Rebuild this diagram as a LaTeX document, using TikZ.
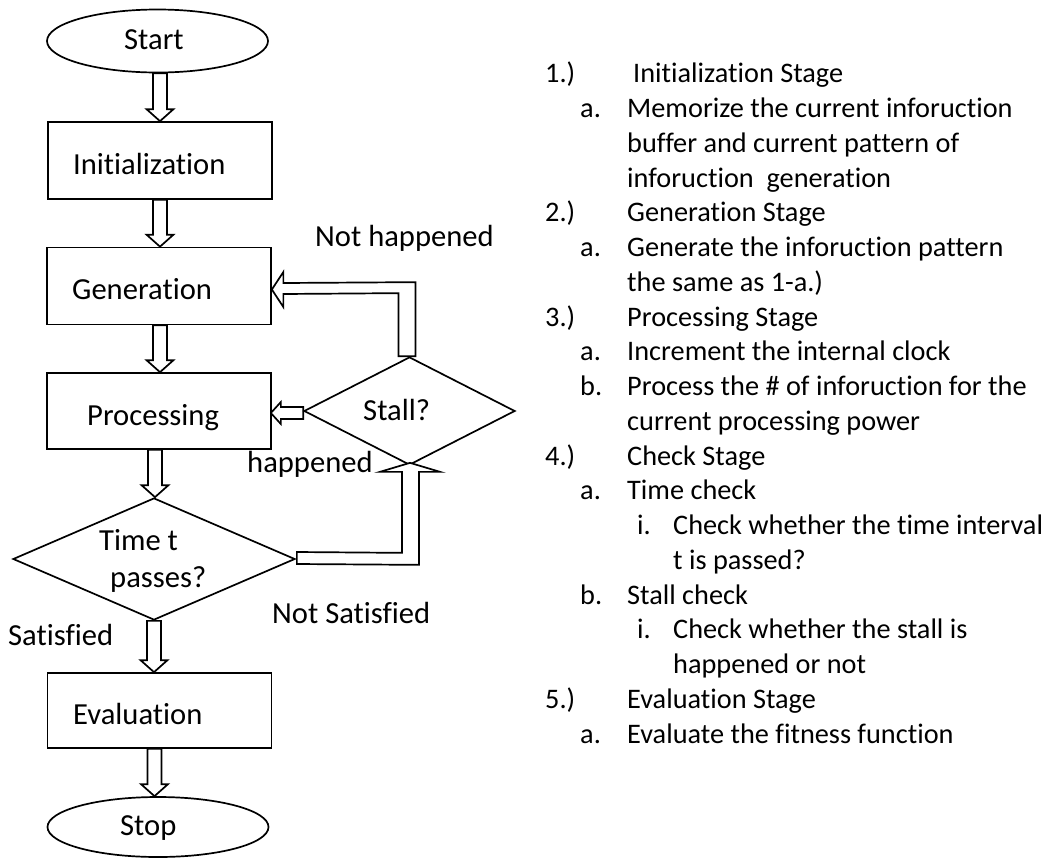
\documentclass[tikz,border=0pt]{standalone}
\usepackage{fontspec}
\setmainfont{Carlito}[Ligatures={NoCommon}]
\usetikzlibrary{shapes.geometric,calc,backgrounds}

% hollow block arrow pointing down, centred on x = #1, from node #2 to node #3
\newcommand\downblock[3]{%
  \draw[blk] let \p1=(#2.south), \p2=(#3.north) in
    ({#1pt-7pt},\y1) -- ({#1pt+7pt},\y1) -- ({#1pt+7pt},{\y2+12pt})
    -- ({#1pt+13.5pt},{\y2+12pt}) -- ({#1pt},\y2) -- ({#1pt-13.5pt},{\y2+12pt})
    -- ({#1pt-7pt},{\y2+12pt}) -- cycle;}

\begin{document}
\begin{tikzpicture}[x=1pt,y=-1pt,
  outline/.style={draw=black,line width=1.7pt,fill=white,inner sep=0pt},
  term/.style={outline,ellipse,minimum width=221pt,minimum height=63pt},
  stepbox/.style={outline,rectangle,minimum width=224pt,minimum height=77pt},
  test/.style={outline,diamond},
  lbl/.style={anchor=base west,inner sep=0pt,font=\fontsize{30.6}{36}\selectfont},
  item/.style={anchor=base west,inner sep=0pt,font=\fontsize{28.3}{34}\selectfont},
  blk/.style={draw=black,line width=1.7pt,fill=white,line join=miter},
]
\useasboundingbox (0,0) rectangle (1052,857);

% flowchart shapes
\node[term] (start) at (157.5,41) {};
\node[stepbox] (init) at (159.75,160.5) {};
\node[stepbox] (gen) at (159,286) {};
\node[stepbox,minimum height=76pt] (proc) at (159,411) {};
\node[test,minimum width=282pt,minimum height=122pt] (time) at (154,559) {};
\node[test,minimum width=211pt,minimum height=108pt] (stall) at (409.5,411) {};
\node[stepbox,minimum height=75pt] (eval) at (159.5,710.5) {};
\node[term,minimum height=60pt] (stop) at (158,827) {};

% texts inside the shapes
\node[lbl] (tstart) at (124,49.3) {Start};
\node[lbl] (tinit) at (73,174) {Initialization};
\node[lbl] (tgen) at (72,299) {Generation};
\node[lbl] (tproc) at (87,425) {Processing};
\node[lbl] (ttime1) at (99,550) {Time t};
\node[lbl] (ttime2) at (110,587) {passes?};
\node[lbl] (tstall) at (363,420) {Stall?};
\node[lbl] (teval) at (73,724) {Evaluation};
\node[lbl] (tstop) at (120,835) {Stop};

% branch labels
\node[lbl] (lnot) at (315,246) {Not happened};
\node[lbl] (lhap) at (247,472) {happened};
\node[lbl] (lnsat) at (272,623) {Not Satisfied};
\node[lbl] (lsat) at (8,645) {Satisfied};

% block arrows, kept behind the shapes
\begin{pgfonlayer}{background}
\downblock{160}{start}{init}
\downblock{160}{init}{gen}
\downblock{160}{gen}{proc}
\downblock{155}{proc}{time}
\downblock{154}{time}{eval}
\downblock{154.5}{eval}{stop}
% stall not happened: back to generation
\draw[blk] ($(stall.north)+(-11,0)$) -- ++(0,-63) -- ($(gen.east)+(11.5,8)$)
  -- ++(0,13) -- ($(gen.east)+(0,3.5)$) -- ($(gen.east)+(11.5,-14)$) -- ++(0,11)
  -- ($(stall.north)+(6,-74)$) -- ($(stall.north)+(6,0)$) -- cycle;
% stall happened: back to processing
\draw[blk] ($(stall.west)+(0,-4)$) -- ($(proc.east)+(9,-4)$) -- ++(0,-5)
  -- ($(proc.east)+(-1,2)$) -- ($(proc.east)+(9,13)$) -- ++(0,-5)
  -- ($(stall.west)+(0,8)$) -- cycle;
\end{pgfonlayer}
% time not satisfied: up to the stall test
\draw[blk] ($(time.east)+(1,-7)$) -- ($(stall.south)+(-7.5,87)$)
  -- ($(stall.south)+(-7.5,6)$) -- ++(-22,0) -- ($(stall.south)+(0.5,-3)$)
  -- ($(stall.south)+(30.5,6)$) -- ++(-21,0) -- ($(stall.south)+(9.5,99)$)
  -- ($(time.east)+(1,5)$) -- cycle;

% stage list
\node[item] (n1) at (545,82.75) {1.)};
\node[item] (n1t) at (633,82.75) {Initialization Stage};
\node[item] (n1a) at (580,117.5) {a.};
\node[item] (n1at) at (627,117.5) {Memorize the current inforuction};
\node[item] (n1b) at (627,152.25) {buffer and current pattern of};
\node[item] (n1c) at (627,187) {inforuction\ \ generation};
\node[item] (n2) at (545,221.75) {2.)};
\node[item] (n2t) at (627,221.75) {Generation Stage};
\node[item] (n2a) at (580,256.5) {a.};
\node[item] (n2at) at (627,256.5) {Generate the inforuction pattern};
\node[item] (n2b) at (627,291.25) {the same as 1-a.)};
\node[item] (n3) at (545,326) {3.)};
\node[item] (n3t) at (627,326) {Processing Stage};
\node[item] (n3a) at (580,360.75) {a.};
\node[item] (n3at) at (627,360.75) {Increment the internal clock};
\node[item] (n3b) at (580,395.5) {b.};
\node[item] (n3bt) at (627,395.5) {Process the \# of inforuction for the};
\node[item] (n3c) at (627,430.25) {current processing power};
\node[item] (n4) at (545,465) {4.)};
\node[item] (n4t) at (627,465) {Check Stage};
\node[item] (n4a) at (580,499.75) {a.};
\node[item] (n4at) at (627,499.75) {Time check};
\node[item] (n4ai) at (637,534.5) {i.};
\node[item] (n4ait) at (673,534.5) {Check whether the time interval};
\node[item] (n4aj) at (673,569.25) {t is passed?};
\node[item] (n4b) at (580,604) {b.};
\node[item] (n4bt) at (627,604) {Stall check};
\node[item] (n4bi) at (637,638.75) {i.};
\node[item] (n4bit) at (673,638.75) {Check whether the stall is};
\node[item] (n4bj) at (673,673.5) {happened or not};
\node[item] (n5) at (545,708.25) {5.)};
\node[item] (n5t) at (627,708.25) {Evaluation Stage};
\node[item] (n5a) at (580,743) {a.};
\node[item] (n5at) at (627,743) {Evaluate the fitness function};
\end{tikzpicture}
\end{document}
